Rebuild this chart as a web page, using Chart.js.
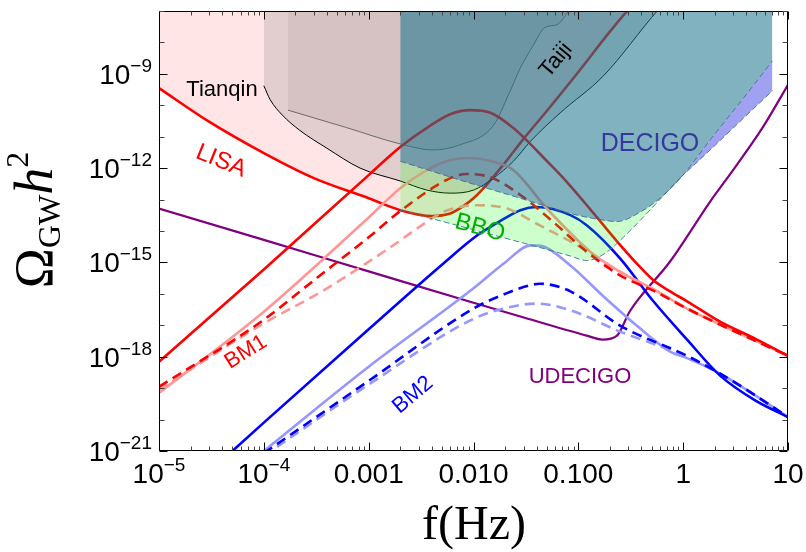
<!DOCTYPE html>
<html><head><meta charset="utf-8">
<script src="https://cdn.jsdelivr.net/npm/chart.js@4.4.0/dist/chart.umd.min.js"></script>
<style>html,body{margin:0;padding:0;background:#fff}</style>
</head><body>
<canvas id="c" width="806" height="552"></canvas>
<script>
// ---------------- data (frequency in Hz, Omega_GW h^2) ----------------
const lisaF = [1e-5, 3e-5, 1e-4, 3e-4, 1e-3, 2e-3, 4e-3, 6e-3, 8e-3, 1e-2, 1.3e-2, 2e-2, 3e-2, 5e-2, 0.1, 0.2, 0.3, 0.4];
const lisaO = [3.5e-10, 3e-11, 3e-12, 4.8e-13, 1.1e-13, 4.6e-14, 3e-14, 3.6e-14, 6.2e-14, 1.1e-13, 2.7e-13, 1.5e-12, 8.5e-12, 6.6e-11, 1.15e-9, 2.2e-8, 1.1e-7, 3e-7];

const tianqinF = [1.0e-4, 1.15e-4, 1.5e-4, 2.2e-4, 4e-4, 8.3e-4, 2e-3, 3.6e-3, 6e-3, 1e-2, 1.55e-2, 2.4e-2, 3.5e-2, 6.7e-2, 0.174, 0.58, 0.8];
const tianqinO = [4.2e-10, 1.5e-10, 4.9e-11, 1.6e-11, 4.3e-12, 1e-12, 3.9e-13, 2e-13, 1.6e-13, 2e-13, 4.8e-13, 1.65e-12, 7.2e-12, 5.7e-11, 8.7e-10, 1.1e-7, 3.3e-7];

const taijiF = [1.7e-4, 6e-4, 2e-3, 4.1e-3, 7.4e-3, 1.55e-2, 2.2e-2, 2.8e-2, 3.7e-2, 4.8e-2, 6.3e-2, 7.5e-2, 8.7e-2];
const taijiO = [7e-11, 2e-11, 5.9e-12, 3.8e-12, 5.5e-12, 2.3e-11, 2.5e-10, 1.55e-9, 7.9e-9, 3e-8, 3.7e-8, 7e-8, 1.4e-7];

const decigoF = [2e-3, 7.4e-3, 2.8e-2, 8.4e-2, 0.161, 0.234, 0.39, 0.6, 0.94, 1.81, 4.4, 7.1];
const decigoO = [1.65e-12, 4.2e-13, 1.1e-13, 3.6e-14, 2.3e-14, 2e-14, 4e-14, 1.1e-13, 4.8e-13, 7.9e-12, 3.3e-10, 2.6e-9];

const bboF = [2e-3, 1e-2, 5e-2, 8.4e-2, 0.12, 0.18, 0.28, 0.94, 1.81, 3.0, 7.1];
const bboO = [4.6e-14, 1.1e-14, 2.6e-15, 1.6e-15, 1.15e-15, 1.95e-15, 7.2e-15, 5e-13, 3.8e-12, 1.9e-11, 2.9e-10];

const udecigoF = [1e-5, 1e-4, 1e-3, 1e-2, 2.8e-2, 0.12, 0.17, 0.234, 0.31, 0.75, 1.9, 2.63, 5.7, 10];
const udecigoO = [5.2e-14, 5.2e-15, 5.2e-16, 5.2e-17, 1.9e-17, 4.7e-18, 3.5e-18, 4.7e-18, 2.8e-17, 1.07e-15, 1.1e-13, 4.8e-13, 1.9e-11, 4.5e-10];

const bm1SolidF = [1e-5, 1e-4, 1e-3, 2e-3, 3.9e-3, 6e-3, 9.3e-3, 1.45e-2, 2.4e-2, 3.2e-2, 4.8e-2, 7.2e-2, 0.13, 0.234, 0.36, 0.52, 0.75, 1.09, 2.25, 4.9, 10];
const bm1SolidO = [6.9e-19, 6e-16, 6e-13, 4.7e-12, 2.3e-11, 5.2e-11, 7e-11, 5.8e-11, 1.9e-11, 7.8e-12, 1.95e-12, 4.8e-13, 4.9e-14, 4.7e-15, 9.3e-16, 2.7e-16, 1.2e-16, 5.8e-17, 1.3e-17, 3.7e-18, 1.07e-18];

const bm1DashF = [1e-5, 1e-4, 3e-4, 1e-3, 2e-3, 6e-3, 8.7e-3, 1.45e-2, 2.8e-2, 5.7e-2, 0.12, 0.25, 0.52, 1.09, 2.25, 4.9, 10];
const bm1DashO = [1.1e-19, 1.5e-17, 2.7e-16, 6.3e-15, 4.3e-14, 4.8e-13, 6.5e-13, 5.1e-13, 1.4e-13, 2e-14, 2.2e-15, 3.9e-16, 1.26e-16, 3.4e-17, 1.05e-17, 3.2e-18, 1.07e-18];

const bm1LightF = [1e-5, 1e-4, 1e-3, 2e-3, 3.9e-3, 6e-3, 9.3e-3, 1.45e-2, 2.4e-2, 5e-2, 0.13, 0.25, 0.52, 1.09, 2.25, 4.9, 10];
const bm1LightO = [7e-20, 2.7e-17, 2.7e-14, 2.3e-13, 1e-12, 1.8e-12, 2.1e-12, 1.7e-12, 8.7e-13, 5.2e-14, 2.2e-15, 5e-16, 1.4e-16, 3.4e-17, 1.05e-17, 3.2e-18, 1.07e-18];

const bm1LightDashF = [1e-5, 9.2e-5, 4e-4, 1.6e-3, 3.1e-3, 5.1e-3, 7.4e-3, 1.08e-2, 1.6e-2, 2.1e-2, 4.3e-2, 9.8e-2, 0.25, 0.52, 1.09, 2.25, 4.9, 10];
const bm1LightDashO = [8.9e-20, 9.8e-18, 1.5e-16, 3e-15, 1.4e-14, 4e-14, 5.8e-14, 6.6e-14, 6.2e-14, 5.2e-14, 1.5e-14, 3.5e-15, 5.1e-16, 1.4e-16, 3.4e-17, 1.05e-17, 3.2e-18, 1.07e-18];

const bm2SolidF = [4e-5, 1e-4, 1e-3, 5e-3, 1.08e-2, 1.68e-2, 2.8e-2, 4e-2, 8.4e-2, 0.121, 0.25, 0.52, 1.09, 2.25, 4.9, 10];
const bm2SolidO = [5e-22, 8e-21, 7.5e-18, 8.5e-16, 7.2e-15, 1.8e-14, 4.6e-14, 5.8e-14, 3.2e-14, 1.5e-14, 1.35e-15, 5.8e-17, 3.5e-18, 2.5e-19, 4e-20, 1.2e-20];

const bm2DashF = [1e-4, 1e-3, 1e-2, 2e-2, 3.5e-2, 4.3e-2, 8.4e-2, 0.25, 1.09, 2.25, 4.9, 10];
const bm2DashO = [8.5e-22, 1.7e-19, 3.4e-17, 1.0e-16, 1.9e-16, 2.1e-16, 1.2e-16, 9.8e-18, 1.07e-18, 2.9e-19, 5.8e-20, 1.2e-20];

const bm2LightF = [1e-4, 1e-3, 1e-2, 2e-2, 3.5e-2, 4.5e-2, 8.4e-2, 0.17, 0.36, 0.75, 1.09, 2.25, 4.9, 10];
const bm2LightO = [1e-21, 4.8e-19, 1.5e-16, 1e-15, 3.5e-15, 3.3e-15, 8e-16, 8.9e-17, 9.8e-18, 1.45e-18, 9e-19, 2.9e-19, 5.8e-20, 1.2e-20];

const bm2LightDashF = [1e-4, 1e-3, 1e-2, 2e-2, 4e-2, 8.4e-2, 0.25, 1.09, 2.25, 4.9, 10];
const bm2LightDashO = [7e-22, 1.3e-19, 1.6e-17, 3.5e-17, 4.9e-17, 3e-17, 6.3e-18, 1.0e-18, 2.9e-19, 5.8e-20, 1.2e-20];

// axis ticks
const xTickValues = [1e-5, 1e-4, 1e-3, 1e-2, 1e-1, 1, 10];
const xTickLabels = [['10', '\u22125'], ['10', '\u22124'], ['0.001', ''], ['0.010', ''], ['0.100', ''], ['1', ''], ['10', '']];
const yTickValues = [1e-21, 1e-18, 1e-15, 1e-12, 1e-9];
const yTickLabels = [['10', '\u221221'], ['10', '\u221218'], ['10', '\u221215'], ['10', '\u221212'], ['10', '\u22129']];

// ---------------- build ----------------
function pts(F, O) { return F.map((f, i) => ({ x: f, y: O[i] })); }
function curve(F, O, color, width, dash, order, extra) {
  return Object.assign({
    data: pts(F, O), borderColor: color, borderWidth: width, borderDash: dash || [],
    pointRadius: 0, fill: false, cubicInterpolationMode: 'monotone', order: order
  }, extra || {});
}
const RED = 'rgb(255,0,0)', PINK = 'rgb(255,150,150)', BLUE = 'rgb(0,0,255)', LBLUE = 'rgb(150,150,255)';
const D = [10, 6];
const datasets = [
  curve(decigoF, decigoO, 'rgba(70,110,140,0.9)', 1, [6, 3], 0, { fill: 'end', backgroundColor: 'rgba(24,115,140,0.55)' }),
  curve(bboF.slice(0, 8), bboO.slice(0, 8), 'rgba(70,110,160,0.9)', 1, [6, 3], 1, { fill: 0, backgroundColor: 'rgba(0,255,0,0.2)' }),
  curve(bboF.slice(7), bboO.slice(7), 'rgba(70,110,160,0.9)', 1, [6, 3], 1, { fill: 0, backgroundColor: 'rgba(0,0,220,0.37)' }),
  curve(bm1SolidF, bm1SolidO, RED, 2.6, [], 2),
  curve(bm1DashF, bm1DashO, RED, 2.6, D, 2),
  curve(bm1LightF, bm1LightO, PINK, 2.6, [], 2),
  curve(bm1LightDashF, bm1LightDashO, PINK, 2.6, D, 2),
  curve(bm2SolidF, bm2SolidO, BLUE, 2.6, [], 2),
  curve(bm2DashF, bm2DashO, BLUE, 2.6, D, 2),
  curve(bm2LightF, bm2LightO, LBLUE, 2.6, [], 2),
  curve(bm2LightDashF, bm2LightDashO, LBLUE, 2.6, D, 2),
  curve(udecigoF, udecigoO, 'rgb(128,0,128)', 2.2, [], 2),
  curve(taijiF, taijiO, 'rgba(95,95,95,0.9)', 1, [], 3, { fill: 'end', backgroundColor: 'rgba(110,90,90,0.1)' }),
  curve(tianqinF, tianqinO, '#000', 1, [], 3, { fill: 'end', backgroundColor: 'rgba(110,110,110,0.2)' }),
  curve(lisaF, lisaO, RED, 2.6, [], 4, { fill: 'end', backgroundColor: 'rgba(255,0,0,0.1)' })
];

const SANS = '"Liberation Sans", Arial, sans-serif';
const SERIF = '"Liberation Serif", "Times New Roman", serif';

const frame = {
  id: 'frame',
  afterDatasetsDraw(chart) {
    const { ctx, chartArea: a, scales: { x, y } } = chart;
    ctx.save();
    ctx.strokeStyle = '#000'; ctx.lineWidth = 1;
    const L = Math.round(a.left) + 0.5, R = Math.round(a.right) - 0.5, T = Math.round(a.top) + 0.5, B = Math.round(a.bottom) - 0.5;
    ctx.beginPath(); ctx.moveTo(L, T); ctx.lineTo(R, T); ctx.lineTo(R, B); ctx.lineTo(L, B); ctx.closePath(); ctx.stroke();
    for (let d = -5; d <= 1; d++) {
      for (let m = 1; m <= 9; m++) {
        const v = m * Math.pow(10, d);
        if (v > 10.0001) break;
        const px = Math.round(x.getPixelForValue(v)) + 0.5;
        const len = m === 1 ? 8 : 4;
        ctx.strokeStyle = m === 1 ? '#000' : '#444';
        ctx.beginPath();
        ctx.moveTo(px, B); ctx.lineTo(px, B - len);
        ctx.moveTo(px, T); ctx.lineTo(px, T + len);
        ctx.stroke();
      }
    }
    for (let e = -21; e <= -7; e++) {
      const py = Math.round(y.getPixelForValue(Math.pow(10, e))) + 0.5;
      const len = (e % 3 === 0) ? 8 : 5;
      ctx.strokeStyle = (e % 3 === 0) ? '#000' : '#444';
      ctx.beginPath();
      ctx.moveTo(L, py); ctx.lineTo(L + len, py);
      ctx.moveTo(R, py); ctx.lineTo(R - len, py);
      ctx.stroke();
    }
    ctx.fillStyle = '#000';
    ctx.textBaseline = 'alphabetic';
    xTickValues.forEach((v, i) => {
      const px = x.getPixelForValue(v);
      const [b, e] = xTickLabels[i];
      ctx.font = '28px ' + SANS; const wb = ctx.measureText(b).width;
      ctx.font = '19px ' + SANS; const we = e ? ctx.measureText(e).width : 0;
      let sx = px - (wb + we) / 2;
      ctx.textAlign = 'left';
      ctx.font = '28px ' + SANS; ctx.fillText(b, sx, a.bottom + 32);
      if (e) { ctx.font = '19px ' + SANS; ctx.fillText(e, sx + wb, a.bottom + 20); }
    });
    yTickValues.forEach((v, i) => {
      const py = y.getPixelForValue(v);
      const [b, e] = yTickLabels[i];
      ctx.font = '19px ' + SANS; const we = ctx.measureText(e).width;
      ctx.textAlign = 'right';
      ctx.fillText(e, 152, py - 2);
      ctx.font = '28px ' + SANS; ctx.fillText(b, 152 - we, py + 10);
    });
    ctx.restore();
  },
  afterDraw(chart) {
    const { ctx } = chart;
    ctx.save();
    function txt(s, cx, cy, font, color, rot) {
      ctx.save(); ctx.translate(cx, cy); ctx.rotate((rot || 0) * Math.PI / 180);
      ctx.font = font; ctx.fillStyle = color; ctx.textAlign = 'center'; ctx.textBaseline = 'middle';
      ctx.fillText(s, 0, 0); ctx.restore();
    }
    txt('Tianqin', 222, 90, '22px ' + SANS, '#000', 0);
    txt('LISA', 221, 161, '24px ' + SANS, 'rgb(255,0,0)', 22);
    txt('Taiji', 556, 60, '22px ' + SANS, '#000', -50);
    txt('DECIGO', 650, 144, '25px ' + SANS, 'rgb(55,55,160)', 0);
    txt('BBO', 480, 228, '24px ' + SANS, 'rgb(0,175,0)', 15);
    txt('BM1', 246, 352, '22px ' + SANS, 'rgb(255,0,0)', -32);
    txt('BM2', 413, 395, '22px ' + SANS, 'rgb(0,0,255)', -40);
    txt('UDECIGO', 580, 377, '22px ' + SANS, 'rgb(128,0,128)', 0);
    ctx.fillStyle = '#000'; ctx.textAlign = 'center'; ctx.textBaseline = 'alphabetic';
    ctx.font = '48px ' + SERIF; ctx.fillText('f(Hz)', 474, 539);
    ctx.save(); ctx.translate(52, 220); ctx.rotate(-Math.PI / 2);
    ctx.textAlign = 'left';
    const parts = [['\u03A9', '54px ' + SERIF, 0], ['GW', '32px ' + SERIF, 8], ['h', 'italic 54px ' + SERIF, 0], ['2', '32px ' + SERIF, -24]];
    let tw = 0;
    parts.forEach(p => { ctx.font = p[1]; tw += ctx.measureText(p[0]).width; });
    let cx = -tw / 2;
    parts.forEach(p => { ctx.font = p[1]; ctx.fillText(p[0], cx, p[2]); cx += ctx.measureText(p[0]).width; });
    ctx.restore();
    ctx.restore();
  }
};

new Chart(document.getElementById('c'), {
  type: 'line',
  data: { datasets: datasets },
  options: {
    responsive: false, animation: false, devicePixelRatio: 1,
    layout: { padding: { left: 159, right: 18, top: 11, bottom: 101 } },
    plugins: { legend: { display: false }, tooltip: { enabled: false } },
    scales: {
      x: { type: 'logarithmic', min: 1e-5, max: 10, display: false },
      y: { type: 'logarithmic', min: 1e-21, max: 1e-7, display: false }
    }
  },
  plugins: [frame]
});
</script>
</body></html>
